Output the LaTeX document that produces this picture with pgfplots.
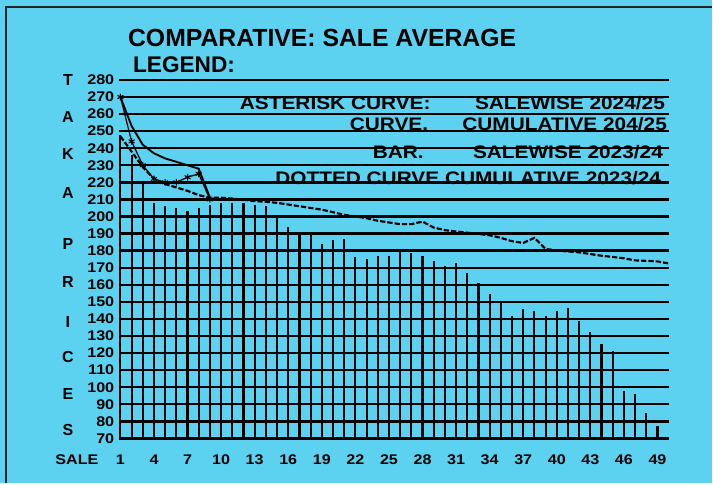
\documentclass[border=0pt]{standalone}
\usepackage{pgfplots}
\pgfplotsset{compat=1.18}
\usepackage{fontspec}
\setmainfont{Liberation Sans}
\newfontfamily\widefont[FakeStretch=1.15]{Liberation Sans}
\definecolor{bgc}{RGB}{92,210,240}

\begin{document}
\begin{tikzpicture}
\begin{scope}[x=0.75pt,y=-0.75pt]
\fill[bgc] (0,0) rectangle (713,484);
\draw[line width=1.4pt, black!85] (6,484) -- (6,7) -- (713,7);
% title
\node[anchor=base west, inner sep=0, font=\bfseries\fontsize{18.6}{20}\selectfont] at (128,47) {COMPARATIVE: SALE AVERAGE};
\node[anchor=base west, inner sep=0, font=\bfseries\fontsize{17}{18}\selectfont] at (133,73) {LEGEND:};
% legend text
\begin{scope}[every node/.style={inner sep=0, font=\widefont\bfseries\fontsize{13.6}{14}\selectfont}]
\node[anchor=base west] at (240,110) {ASTERISK CURVE:};
\node[anchor=base east] at (666,110) {SALEWISE 2024/25};
\node[anchor=base west] at (350,131) {CURVE.};
\node[anchor=base east] at (668,131) {CUMULATIVE 204/25};
\node[anchor=base west] at (373,159) {BAR.};
\node[anchor=base east] at (664,159) {SALEWISE 2023/24};
\node[anchor=base east] at (668,185) {DOTTED CURVE.CUMULATIVE 2023/24.};
\end{scope}
% vertical axis title
\begin{scope}[every node/.style={inner sep=0, font=\bfseries\fontsize{12}{12}\selectfont}]
\node at (68,80) {T};
\node at (68,117) {A};
\node at (68,154) {K};
\node at (68,193) {A};
\node at (68,244) {P};
\node at (68,282) {R};
\node at (68,322) {I};
\node at (68,357) {C};
\node at (68,395) {E};
\node at (68,431) {S};
\end{scope}
\node[inner sep=0, font=\widefont\bfseries\fontsize{10.5}{11}\selectfont] at (77,460) {SALE};
\end{scope}

\begin{axis}[
  at={(89.25pt,-329.25pt)}, anchor=south west,
  scale only axis, width=412.9pt, height=269.25pt,
  xmin=0.86, xmax=50, ymin=70, ymax=280,
  axis line style={draw=none},
  ytick={70,80,...,280},
  xtick={1,4,...,49},
  major tick length=0pt,
  ymajorgrids, grid style={black, line width=1.8pt},
  tick label style={font=\widefont\bfseries\fontsize{10.5}{11}\selectfont},
  /pgf/number format/assume math mode=true,
  xticklabel style={yshift=-8.5pt},
]
% BAR: salewise 2023/24
\addplot[ycomb, black, line width=1.6pt, mark=none] coordinates {
(1,248) (2,236) (3,221) (4,208) (5,206) (6,205) (7,203) (8,205) (9,207) (10,208)
(11,208) (12,208) (13,207) (14,206) (15,199) (16,194) (17,190) (18,190) (19,184) (20,186)
(21,187) (22,176.5) (23,175) (24,177) (25,177) (26,179) (27,178.6) (28,176.6) (29,174) (30,171.2)
(31,172.5) (32,167) (33,161.2) (34,154.4) (35,150.3) (36,141.9) (37,145.8) (38,144.6) (39,141.9) (40,144.6)
(41,146.4) (42,138.6) (43,132.2) (44,125.6) (45,121) (46,98) (47,96) (48,85) (49,77)
};
% CURVE: cumulative 2024/25
\addplot[black, line width=1.4pt] coordinates {
(1,270) (2,253) (3,242) (4,237) (5,234) (6,232) (7,230) (8,228) (9,211)
};
% ASTERISK CURVE: salewise 2024/25
\addplot[black, line width=0.9pt, mark=asterisk, mark size=2.5pt, mark options={line width=0.8pt, solid}] coordinates {
(1,270) (2,244) (3,230) (4,222) (5,220) (6,220) (7,223) (8,225) (9,210)
};
% DOTTED CURVE: cumulative 2023/24
\addplot[black, line width=1.6pt, dash pattern=on 4pt off 1.5pt] coordinates {
(1,247) (2,238) (3,229) (4,222) (5,219) (6,217) (7,215) (8,212.5) (9,211) (10,211)
(11,210.5) (12,209.8) (13,209) (14,208.6) (15,208) (16,207) (17,206) (18,205) (19,204) (20,202.5)
(21,201) (22,200) (23,199) (24,197.5) (25,196.5) (26,195.5) (27,195.5) (28,197) (29,193.5) (30,192)
(31,191.2) (32,190.5) (33,189.8) (34,189) (35,187.5) (36,185.5) (37,184.5) (38,187.5) (39,181) (40,180.1)
(41,179.5) (42,179) (43,178) (44,177) (45,176.3) (46,175.5) (47,174.3) (48,174) (49,173.7) (50,172.5)
};
\end{axis}
\end{tikzpicture}
\end{document}
